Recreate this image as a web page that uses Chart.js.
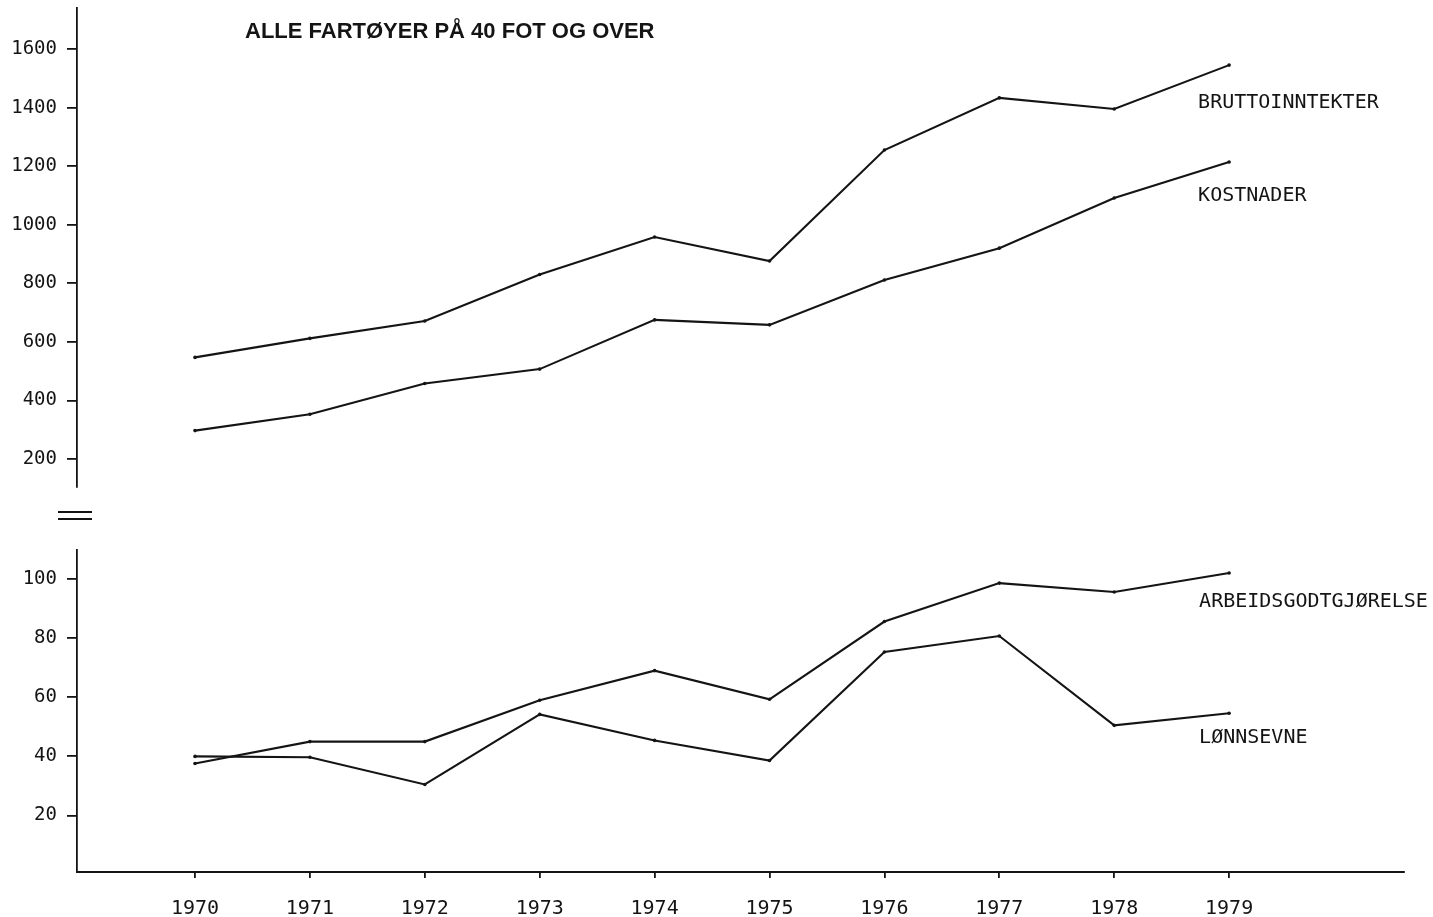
<!DOCTYPE html>
<html>
<head>
<meta charset="utf-8">
<script src="https://cdn.jsdelivr.net/npm/chart.js@4.4.0/dist/chart.umd.min.js"></script>
<style>
    html, body { margin: 0; padding: 0; background: #fff; }
    body { width: 1433px; height: 917px; position: relative; overflow: hidden; }
    .panel { position: absolute; left: 0; width: 1433px; }
    #topPanel { top: 0; height: 500px; }
    #bottomPanel { top: 500px; height: 417px; }
</style>
</head>
<body>
<div class="panel" id="topPanel"><canvas id="upperChart"></canvas></div>
<div class="panel" id="bottomPanel"><canvas id="lowerChart"></canvas></div>
<script>
// Data (values per year)
const years = [1970, 1971, 1972, 1973, 1974, 1975, 1976, 1977, 1978, 1979];
const bruttoinntekter = [547, 612, 671, 830, 958, 876, 1255, 1433, 1395, 1545];
const kostnader = [297, 353, 458, 507, 675, 658, 811, 920, 1091, 1214];
const arbeidsgodtgjorelse = [37.6, 45, 45, 59, 69, 59.3, 85.6, 98.6, 95.6, 102];
const lonnsevne = [40, 39.7, 30.5, 54.2, 45.4, 38.6, 75.3, 80.7, 50.5, 54.6];

// Tick labels
const upperTicks = [200, 400, 600, 800, 1000, 1200, 1400, 1600];
const lowerTicks = [20, 40, 60, 80, 100];
const yearTicks = years;

const INK = '#141414';
const MONO = '"DejaVu Sans Mono", "Liberation Mono", monospace';

Chart.defaults.font.family = MONO;
Chart.defaults.color = INK;

const toPoints = values => values.map((v, i) => ({ x: years[i], y: v }));

const lineStyle = {
    borderColor: INK,
    borderWidth: 2.1,
    pointRadius: 1.8,
    pointBackgroundColor: INK,
    pointBorderWidth: 0,
    tension: 0
};

// where each series name sits relative to its last point
const labelOffsets = {
    'BRUTTOINNTEKTER': { dx: -31, dy: 36 },
    'KOSTNADER': { dx: -31, dy: 32 },
    'ARBEIDSGODTGJØRELSE': { dx: -30, dy: 27 },
    'LØNNSEVNE': { dx: -30, dy: 23 }
};

const seriesLabels = {
    id: 'seriesLabels',
    afterDatasetsDraw(chart) {
        const ctx = chart.ctx;
        ctx.save();
        ctx.font = '20px ' + MONO;
        ctx.fillStyle = INK;
        ctx.textBaseline = 'alphabetic';
        chart.data.datasets.forEach((ds, i) => {
            const pts = chart.getDatasetMeta(i).data;
            const last = pts[pts.length - 1];
            const off = labelOffsets[ds.label];
            ctx.fillText(ds.label, last.x + off.dx, last.y + off.dy + 7);
        });
        ctx.restore();
    }
};

const headline = {
    id: 'headline',
    afterDraw(chart) {
        const ctx = chart.ctx;
        ctx.save();
        ctx.font = 'bold 22px "Liberation Sans", Arial, sans-serif';
        ctx.fillStyle = INK;
        ctx.textBaseline = 'alphabetic';
        ctx.fillText('ALLE FARTØYER PÅ 40 FOT OG OVER', 245, 38);
        ctx.restore();
    }
};

const axisBreak = {
    id: 'axisBreak',
    afterDraw(chart) {
        const ctx = chart.ctx;
        const a = chart.chartArea;
        ctx.save();
        ctx.strokeStyle = INK;
        ctx.lineWidth = 1.8;
        ctx.beginPath();
        ctx.moveTo(a.left - 19, a.top - 38);
        ctx.lineTo(a.left + 15, a.top - 38);
        ctx.moveTo(a.left - 19, a.top - 31);
        ctx.lineTo(a.left + 15, a.top - 31);
        ctx.stroke();
        ctx.restore();
    }
};

const xRange = { min: 1968.973, max: 1980.522 };

const noPad = scale => {
    scale.paddingTop = 0;
    scale.paddingBottom = 0;
    scale.paddingLeft = 0;
    scale.paddingRight = 0;
};

function yAxis(min, max, tickList) {
    return {
        type: 'linear',
        position: 'left',
        min: min,
        max: max,
        afterFit: scale => { scale.width = 77; noPad(scale); },
        afterBuildTicks: scale => { scale.ticks = tickList.map(v => ({ value: v })); },
        border: { display: true, color: INK, width: 1.8 },
        grid: { drawOnChartArea: false, drawTicks: true, tickLength: 10, color: INK, lineWidth: 1.8 },
        ticks: { padding: 10, font: { size: 19 }, color: INK, callback: v => String(v) }
    };
}

// Upper panel: Bruttoinntekter og kostnader
new Chart(document.getElementById('upperChart'), {
    type: 'line',
    data: {
        datasets: [
            Object.assign({ label: 'BRUTTOINNTEKTER', data: toPoints(bruttoinntekter) }, lineStyle),
            Object.assign({ label: 'KOSTNADER', data: toPoints(kostnader) }, lineStyle)
        ]
    },
    options: {
        responsive: true,
        maintainAspectRatio: false,
        animation: false,
        layout: { padding: { top: 8, bottom: 13, left: 0, right: 29 } },
        plugins: { legend: { display: false }, tooltip: { enabled: false } },
        scales: {
            x: Object.assign({ type: 'linear', display: false }, xRange),
            y: yAxis(104.4, 1740, upperTicks)
        }
    },
    plugins: [seriesLabels, headline]
});

// Lower panel: Arbeidsgodtgjørelse og lønnsevne
new Chart(document.getElementById('lowerChart'), {
    type: 'line',
    data: {
        datasets: [
            Object.assign({ label: 'ARBEIDSGODTGJØRELSE', data: toPoints(arbeidsgodtgjorelse) }, lineStyle),
            Object.assign({ label: 'LØNNSEVNE', data: toPoints(lonnsevne) }, lineStyle)
        ]
    },
    options: {
        responsive: true,
        maintainAspectRatio: false,
        animation: false,
        layout: { padding: { top: 50, bottom: 0, left: 0, right: 29 } },
        plugins: { legend: { display: false }, tooltip: { enabled: false } },
        scales: {
            x: Object.assign({
                type: 'linear',
                position: 'bottom',
                afterFit: scale => { scale.height = 45; noPad(scale); },
                afterBuildTicks: scale => { scale.ticks = yearTicks.map(v => ({ value: v })); },
                border: { display: true, color: INK, width: 2 },
                grid: { drawOnChartArea: false, drawTicks: true, tickLength: 6, color: INK, lineWidth: 1.8 },
                ticks: { padding: 19, font: { size: 20 }, color: INK, maxRotation: 0, autoSkip: false, callback: v => String(v) }
            }, xRange),
            y: yAxis(0.9, 109.8, lowerTicks)
        }
    },
    plugins: [seriesLabels, axisBreak]
});
</script>
</body>
</html>
